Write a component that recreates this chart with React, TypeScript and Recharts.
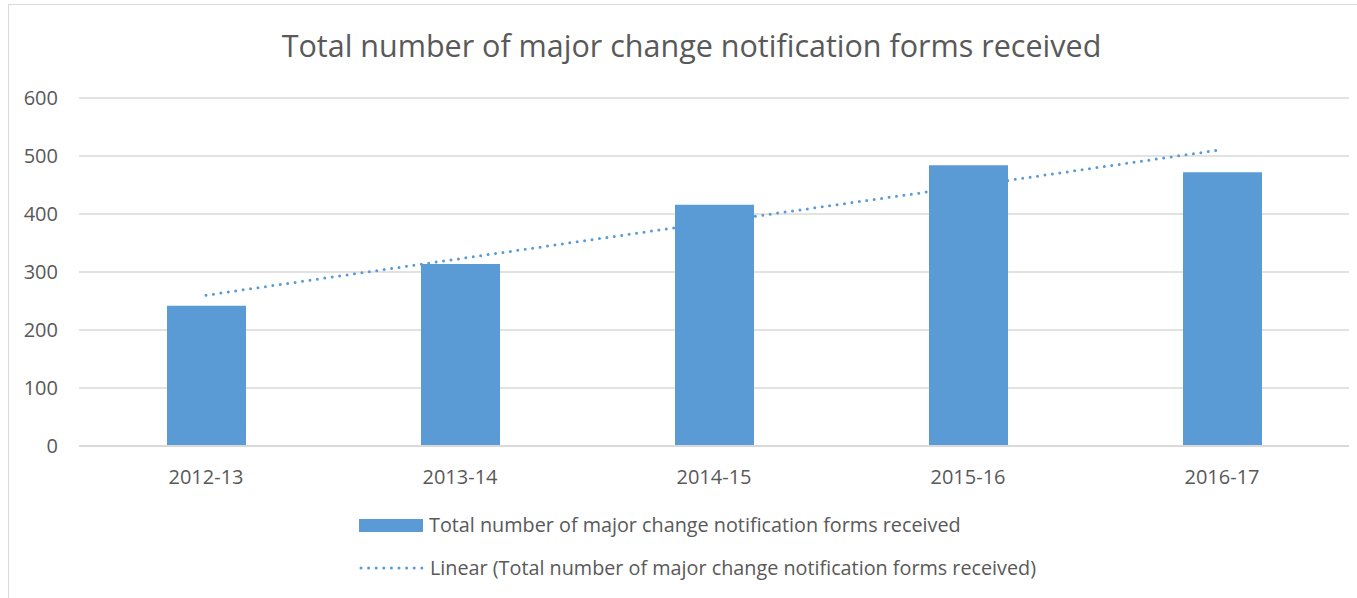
import { Bar, CartesianGrid, ComposedChart, Legend, Line, XAxis, YAxis } from "recharts";

const YEARS = ["2012-13", "2013-14", "2014-15", "2015-16", "2016-17"];
const FORMS_RECEIVED = [242, 314, 416, 484, 472];
const LINEAR_TREND = [260, 323, 386, 448, 511];
const Y_TICKS = [0, 100, 200, 300, 400, 500, 600];

const SERIES_NAME = "Total number of major change notification forms received";
const TREND_NAME = "Linear (Total number of major change notification forms received)";

const BLUE = "#5b9bd5";
const TEXT = "#595959";
const GRID = "#d9d9d9";
const FONT = "'Open Sans', sans-serif";

const data = YEARS.map((year, i) => ({
  year,
  forms: FORMS_RECEIVED[i],
  trend: LINEAR_TREND[i],
}));

function LegendBox() {
  return (
    <div style={{ fontFamily: FONT, fontSize: 19.8, color: TEXT, lineHeight: "24px" }}>
      <div style={{ display: "flex", alignItems: "center", height: 24 }}>
        <span style={{ width: 64, height: 13, background: BLUE, marginRight: 6 }} />
        {SERIES_NAME}
      </div>
      <div style={{ display: "flex", alignItems: "center", height: 24, marginTop: 19 }}>
        <svg width={66} height={6} style={{ marginRight: 5 }}>
          <line x1={2} y1={3} x2={64} y2={3} stroke={BLUE} strokeWidth={3} strokeDasharray="0 7.6" strokeLinecap="round" />
        </svg>
        {TREND_NAME}
      </div>
    </div>
  );
}

export default function App() {
  return (
    <div style={{ position: "absolute", left: 0, top: 0, width: 1357, height: 598, background: "#fff", overflow: "hidden" }}>
      <div
        style={{
          position: "absolute",
          left: 8,
          top: 4,
          width: 1360,
          height: 600,
          borderLeft: `1.5px solid ${GRID}`,
          borderTop: `1.5px solid ${GRID}`,
        }}
      />
      <div
        style={{
          position: "absolute",
          left: 0,
          top: 24,
          width: 1383,
          textAlign: "center",
          fontFamily: FONT,
          fontSize: 30.5,
          color: TEXT,
          whiteSpace: "nowrap",
        }}
      >
        {SERIES_NAME}
      </div>
      <div style={{ position: "absolute", left: 0, top: 0 }}>
        <ComposedChart width={1357} height={598} data={data} margin={{ top: 98, right: 8, bottom: 55, left: 0 }}>
          <CartesianGrid vertical={false} stroke={GRID} strokeWidth={1.5} />
          <XAxis
            dataKey="year"
            height={30}
            axisLine={{ stroke: GRID, strokeWidth: 2 }}
            tickLine={false}
            tickMargin={18}
            tick={{ fill: TEXT, fontSize: 20, fontFamily: FONT }}
          />
          <YAxis
            width={79}
            domain={[0, 600]}
            ticks={Y_TICKS}
            axisLine={false}
            tickLine={false}
            tickMargin={15}
            tick={{ fill: TEXT, fontSize: 20, fontFamily: FONT }}
          />
          <Line
            dataKey="trend"
            name={TREND_NAME}
            type="linear"
            stroke={BLUE}
            strokeWidth={3}
            strokeDasharray="0 7.5"
            strokeLinecap="round"
            dot={false}
            activeDot={false}
            isAnimationActive={false}
            zIndex={100}
          />
          <Bar dataKey="forms" name={SERIES_NAME} fill={BLUE} barSize={79} isAnimationActive={false} />
          <Legend
            layout="vertical"
            align="center"
            verticalAlign="bottom"
            content={() => <LegendBox />}
            wrapperStyle={{ left: 359, top: 513, bottom: "auto", width: "auto" }}
          />
        </ComposedChart>
      </div>
    </div>
  );
}
